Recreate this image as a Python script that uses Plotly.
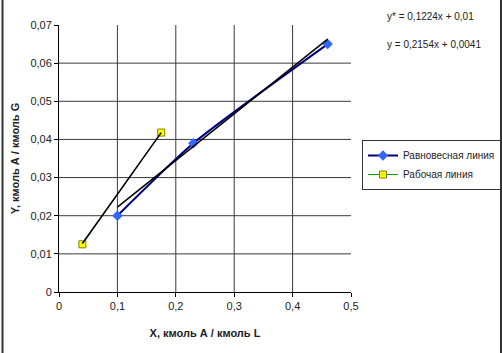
import plotly.graph_objects as go

# Data
eq_x = [0.10, 0.23, 0.46]
eq_y = [0.020, 0.039, 0.065]
work_x = [0.04, 0.175]
work_y = [0.0125, 0.0418]

eq_name = "Равновесная линия"
work_name = "Рабочая линия"

eq_slope, eq_icpt = 0.1224, 0.01
work_slope, work_icpt = 0.2154, 0.0041
eq_label = "y* = 0,1224x + 0,01"
work_label = "y = 0,2154x + 0,0041"

x_ticks = [0, 0.1, 0.2, 0.3, 0.4, 0.5]
x_ticktext = ["0", "0,1", "0,2", "0,3", "0,4", "0,5"]
y_ticks = [0, 0.01, 0.02, 0.03, 0.04, 0.05, 0.06, 0.07]
y_ticktext = ["0", "0,01", "0,02", "0,03", "0,04", "0,05", "0,06", "0,07"]

FONT = "Liberation Sans, Arial, sans-serif"
GRID = "#3a3a3a"

fig = go.Figure()

# Equilibrium line
fig.add_trace(go.Scatter(
    x=eq_x, y=eq_y, name=eq_name, mode="lines+markers",
    line=dict(color="#000080", width=2, shape="spline", smoothing=0.6),
    marker=dict(symbol="diamond", size=8, color="#3366FF", line=dict(color="#3366FF", width=0)),
))
# Working line
fig.add_trace(go.Scatter(
    x=work_x, y=work_y, name=work_name, mode="lines+markers",
    line=dict(color="#00A000", width=1),
    marker=dict(symbol="square", size=7, color="#FFFF00", line=dict(color="#808000", width=1)),
))

# Trendlines (black)
tx_eq = [eq_x[0], eq_x[-1]]
fig.add_trace(go.Scatter(
    x=tx_eq, y=[eq_slope * v + eq_icpt for v in tx_eq], mode="lines",
    line=dict(color="black", width=1.5), showlegend=False, hoverinfo="skip",
))
tx_w = [work_x[0], work_x[-1]]
fig.add_trace(go.Scatter(
    x=tx_w, y=[work_slope * v + work_icpt for v in tx_w], mode="lines",
    line=dict(color="black", width=1.5), showlegend=False, hoverinfo="skip",
))

# Gridlines (interior only, as in the reference)
for v in x_ticks[1:-1]:
    fig.add_shape(type="line", xref="x", yref="paper", x0=v, x1=v, y0=0, y1=1,
                  line=dict(color=GRID, width=1), layer="below")
for v in y_ticks[1:-1]:
    fig.add_shape(type="line", xref="paper", yref="y", x0=0, x1=1, y0=v, y1=v,
                  line=dict(color=GRID, width=1), layer="below")

fig.update_xaxes(
    range=[0, 0.5], tickvals=x_ticks, ticktext=x_ticktext,
    showgrid=False,
    showline=True, linecolor="black", linewidth=1,
    ticks="outside", ticklen=4, tickcolor="black",
    tickfont=dict(family=FONT, size=11, color="#222222"),
    zeroline=False,
    title=dict(text="<b>X, кмоль А / кмоль L</b>", font=dict(family=FONT, size=11, color="#222222"), standoff=18),
)
fig.update_yaxes(
    range=[0, 0.07], tickvals=y_ticks, ticktext=y_ticktext,
    showgrid=False,
    showline=True, linecolor="black", linewidth=1,
    ticks="outside", ticklen=4, tickcolor="black",
    tickfont=dict(family=FONT, size=11, color="#222222"),
    zeroline=False,
    title=dict(text="<b>Y, кмоль А / кмоль G</b>", font=dict(family=FONT, size=11, color="#222222"), standoff=8),
)

fig.add_annotation(xref="paper", yref="paper", x=(385 - 59) / 292, y=(292 - 17) / 267,
                   xanchor="left", yanchor="middle", showarrow=False,
                   text=eq_label, font=dict(family=FONT, size=10, color="#222222"))
fig.add_annotation(xref="paper", yref="paper", x=(385 - 59) / 292, y=(292 - 45) / 267,
                   xanchor="left", yanchor="middle", showarrow=False,
                   text=work_label, font=dict(family=FONT, size=10, color="#222222"))

# side borders
fig.add_shape(type="line", xref="paper", yref="paper",
              x0=(2.5 - 59) / 292, x1=(2.5 - 59) / 292, y0=-61 / 267, y1=292 / 267,
              line=dict(color="#333333", width=2))
fig.add_shape(type="line", xref="paper", yref="paper",
              x0=(501 - 59) / 292, x1=(501 - 59) / 292, y0=-61 / 267, y1=292 / 267,
              line=dict(color="#333333", width=2))

fig.update_layout(
    width=502, height=353,
    margin=dict(l=59, r=151, t=25, b=61, autoexpand=False),
    paper_bgcolor="white", plot_bgcolor="white",
    font=dict(family=FONT, size=11, color="#222222"),
    legend=dict(x=(362 - 59) / 292, y=(292 - 140) / 267, xanchor="left", yanchor="top",
                bordercolor="#333333", borderwidth=1, bgcolor="white",
                font=dict(family=FONT, size=10, color="#222222"),
                tracegroupgap=0, itemwidth=30),
    showlegend=True,
)

fig.write_html("out.html")
